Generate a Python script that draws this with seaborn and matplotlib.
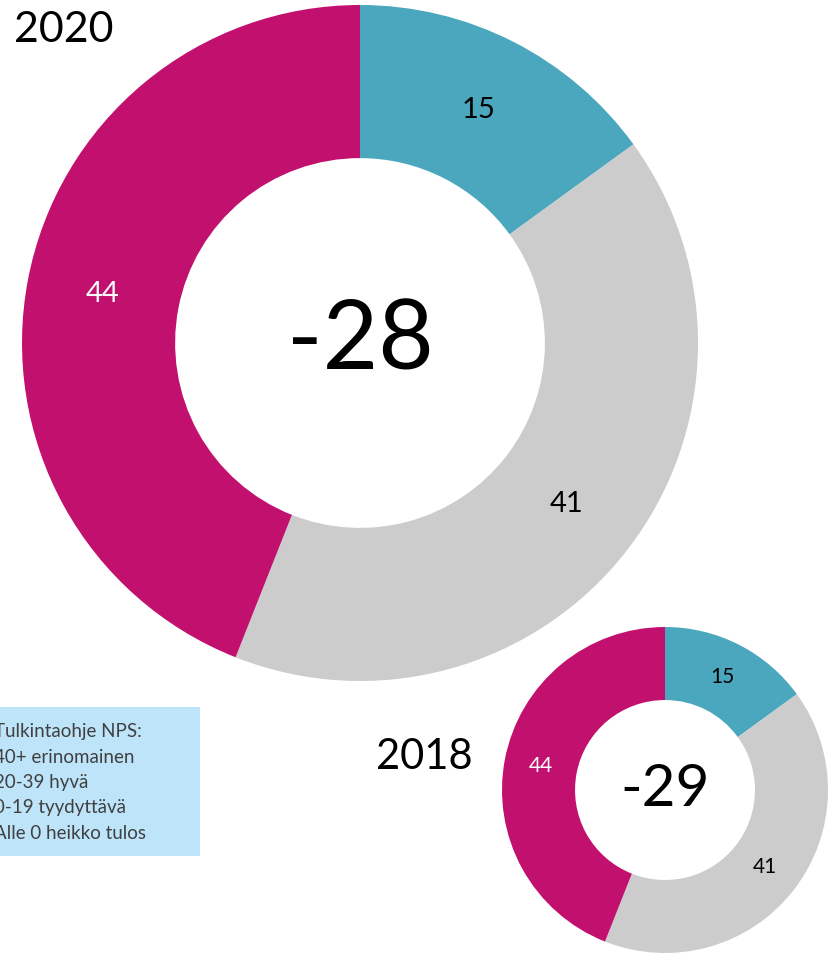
import matplotlib.pyplot as plt
import seaborn as sns
from matplotlib.patches import Rectangle

sns.set_theme(style="white")
plt.rcParams["font.family"] = ["Lato", "DejaVu Sans"]

# NPS shares (promoters, passives, detractors)
groups = ["Suosittelijat", "Passiiviset", "Arvostelijat"]
shares_2020 = [15, 41, 44]
shares_2018 = [15, 41, 44]
nps_2020 = -28
nps_2018 = -29
colors = ["#4BA7BD", "#CCCCCC", "#C2106E"]
label_colors = ["black", "black", "white"]

guide_lines = ["Tulkintaohje NPS:", "40+ erinomainen", "20-39 hyvä",
               "0-19 tyydyttävä", "Alle 0 heikko tulos"]

W, H = 833, 959
fig = plt.figure(figsize=(W / 100, H / 100), dpi=100)


def px_axes(cx, cy, r):
    # axes square around a centre given in pixels from top-left
    return fig.add_axes([(cx - r) / W, (H - cy - r) / H, 2 * r / W, 2 * r / H])


def donut(ax, shares, nps, width, lab_size, center_size):
    wedges, texts = ax.pie(shares, colors=colors, startangle=90, counterclock=False,
                           labels=[str(v) for v in shares], labeldistance=0.775,
                           wedgeprops=dict(width=width, linewidth=0),
                           textprops=dict(fontsize=lab_size, ha="center", va="center"))
    for t, c in zip(texts, label_colors):
        t.set_color(c)
        t.set_ha("center")
    ax.text(0, 0, str(nps), ha="center", va="center", fontsize=center_size, color="black")
    ax.set_xlim(-1, 1)
    ax.set_ylim(-1, 1)
    ax.axis("off")


ax1 = px_axes(360, 343, 338)
donut(ax1, shares_2020, nps_2020, 0.453, 21, 69)

ax2 = px_axes(665, 790, 163)
donut(ax2, shares_2018, nps_2018, 0.448, 15, 42)

fig.text(14 / W, 1 - 30 / H, "2020", fontsize=31, color="black", ha="left", va="center")
fig.text(376 / W, 1 - 757 / H, "2018", fontsize=30, color="black", ha="left", va="center")

# interpretation guide box
fig.patches.append(Rectangle((0, 1 - 856 / H), 200 / W, 149 / H,
                             transform=fig.transFigure, facecolor="#BDE4F9",
                             edgecolor="none", zorder=0))
for i, line in enumerate(guide_lines):
    fig.text(-6 / W, 1 - (732 + 25.3 * i) / H, line, fontsize=13.5,
             color="#404040", ha="left", va="center")

fig.savefig("out.png", dpi=100)
